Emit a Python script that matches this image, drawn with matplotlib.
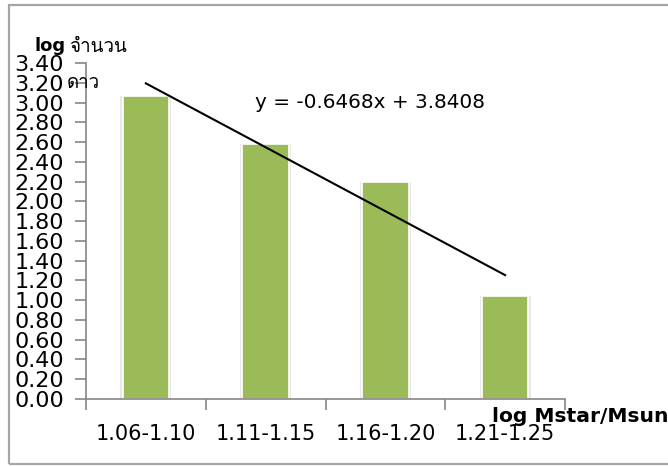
import matplotlib
matplotlib.use("Agg")
import matplotlib.pyplot as plt
from matplotlib import font_manager
from matplotlib.ft2font import FT2Font
from matplotlib.patches import Rectangle
import numpy as np

# --- data -------------------------------------------------------------
categories = ["1.06-1.10", "1.11-1.15", "1.16-1.20", "1.21-1.25"]
log_counts = [3.07, 2.58, 2.20, 1.04]
trend_slope = -0.6468
trend_intercept = 3.8408
y_ticks = [round(0.2 * i, 2) for i in range(18)]


def find_thai_font():
    """Return the family name of an installed font that covers Thai."""
    for entry in font_manager.fontManager.ttflist:
        try:
            cmap = FT2Font(entry.fname).get_charmap()
        except Exception:
            continue
        if 0x0E08 in cmap and 0x0E27 in cmap:
            return entry.name
    return None


thai_family = find_thai_font()
thai_list = [thai_family, "DejaVu Sans"] if thai_family else ["DejaVu Sans"]

plt.rcParams["font.family"] = ["DejaVu Sans"]

W, H = 668, 466
fig = plt.figure(figsize=(W / 100, H / 100), dpi=100)
fig.patch.set_facecolor("white")

# chart frame (right edge runs past the canvas)
fig.patches.append(Rectangle((9 / W, 1 - 464 / H), 700 / W, (464 - 5) / H,
                             transform=fig.transFigure, fill=False,
                             edgecolor="#a6a6a6", linewidth=1.6))

ax = fig.add_axes([86 / W, 1 - 399 / H, (565 - 86) / W, (399 - 63) / H])

x = np.arange(len(categories))
bar_w = 0.39
# soft shadow behind the bars
ax.bar(x, log_counts, width=bar_w + 0.035, color="#d9d9d9", alpha=0.6,
       linewidth=0, zorder=1)
ax.bar(x, log_counts, width=bar_w, color="#9bbb59", edgecolor="white",
       linewidth=1.2, zorder=2)

# linear trend line across the category centres (x = 1..4)
xt = np.array([1, len(categories)])
ax.plot(xt - 1, trend_slope * xt + trend_intercept, color="black",
        linewidth=1.5, zorder=3)
ax.text(1.87, 3.00, f"y = {trend_slope}x + {trend_intercept}", fontsize=14.4,
        ha="center", va="center", color="black")

ax.set_xlim(-0.5, len(categories) - 0.5)
ax.set_ylim(0, 3.4)
ax.set_yticks(y_ticks)
ax.set_yticklabels([f"{v:.2f}" for v in y_ticks], fontsize=16)
ax.set_xticks(x)
ax.set_xticklabels(categories, fontsize=15)
ax.tick_params(axis="x", length=0, pad=18)
ax.set_xticks(np.arange(len(categories) + 1) - 0.5, minor=True)
ax.tick_params(axis="x", which="minor", length=8, width=1.2, color="#868686")
ax.tick_params(axis="y", length=8, width=1.2, color="#868686", pad=8)

for side in ("top", "right"):
    ax.spines[side].set_visible(False)
for side in ("left", "bottom"):
    ax.spines[side].set_color("#868686")
    ax.spines[side].set_linewidth(1.2)

# axis titles
fig.text(35 / W, 1 - 46 / H, "log", fontsize=13, fontweight="bold",
         ha="left", va="center")
fig.text(69 / W, 1 - 47 / H, "จำนวน", fontsize=13.5, family=thai_list,
         ha="left", va="center")
fig.text(67 / W, 1 - 83 / H, "ดาว", fontsize=13.5, family=thai_list,
         ha="left", va="center")
fig.text(492 / W, 1 - 417 / H, "log Mstar/Msun", fontsize=14.6,
         fontweight="bold", ha="left", va="center")

fig.savefig("out.png", dpi=100, facecolor="white")
